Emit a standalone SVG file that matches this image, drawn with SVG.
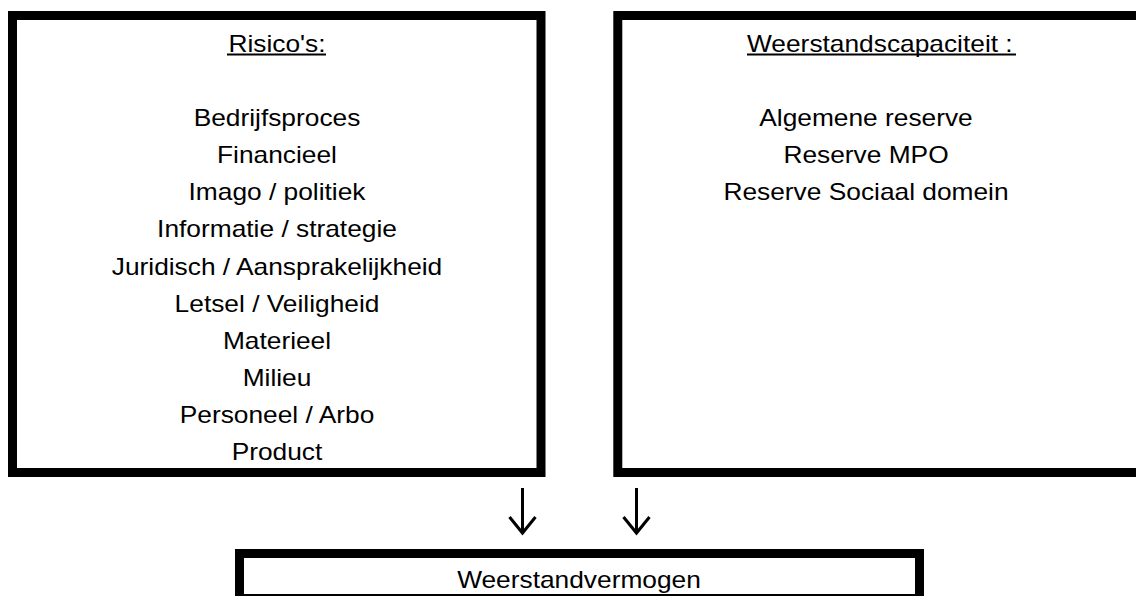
<svg xmlns="http://www.w3.org/2000/svg" width="1136" height="596" viewBox="0 0 1136 596">
<style>
.box{fill:none;stroke:#000;stroke-width:9}
.t{font-family:"Liberation Sans",Arial,sans-serif;font-size:23.4px;fill:#000}
.m{text-anchor:middle}
.ul{stroke:#000;stroke-width:2}
.arr{fill:none;stroke:#000;stroke-width:3}
</style>
<rect width="1136" height="596" fill="#fff"/>
<g id="risicos">
<rect class="box" x="12.5" y="15.5" width="528.5" height="457"/>
<g transform="translate(277,0) scale(1.125,1)">
<text class="t m" x="0" y="52">Risico's:</text>
<text class="t m" x="0" y="126">Bedrijfsproces</text>
<text class="t m" x="0" y="163">Financieel</text>
<text class="t m" x="0" y="200">Imago / politiek</text>
<text class="t m" x="0" y="237">Informatie / strategie</text>
<text class="t m" x="0" y="275">Juridisch / Aansprakelijkheid</text>
<text class="t m" x="0" y="312">Letsel / Veiligheid</text>
<text class="t m" x="0" y="349">Materieel</text>
<text class="t m" x="0" y="386">Milieu</text>
<text class="t m" x="0" y="423">Personeel / Arbo</text>
<text class="t m" x="0" y="460">Product</text>
</g>
<line class="ul" x1="227" y1="54.5" x2="326" y2="54.5"/>
</g>
<g id="weerstandscapaciteit">
<rect class="box" x="617.8" y="15.5" width="530" height="457"/>
<g transform="translate(747,0) scale(1.125,1)">
<text class="t" x="0" y="52">Weerstandscapaciteit :</text>
</g>
<line class="ul" x1="747" y1="54.5" x2="1016" y2="54.5"/>
<g transform="translate(866,0) scale(1.125,1)">
<text class="t m" x="0" y="126">Algemene reserve</text>
<text class="t m" x="0" y="163">Reserve MPO</text>
<text class="t m" x="0" y="200">Reserve Sociaal domein</text>
</g>
</g>
<g id="weerstandvermogen">
<rect class="box" x="239.5" y="553.5" width="680" height="45"/>
<g transform="translate(579,0) scale(1.125,1)">
<text class="t m" x="0" y="588">Weerstandvermogen</text>
</g>
</g>
<g id="connectors">
<path class="arr" d="M522.5,488 V533 M509.5,517 L522.5,533 L535.5,517"/>
<path class="arr" d="M636.5,488 V533 M623.5,517 L636.5,533 L649.5,517"/>
</g>
</svg>
